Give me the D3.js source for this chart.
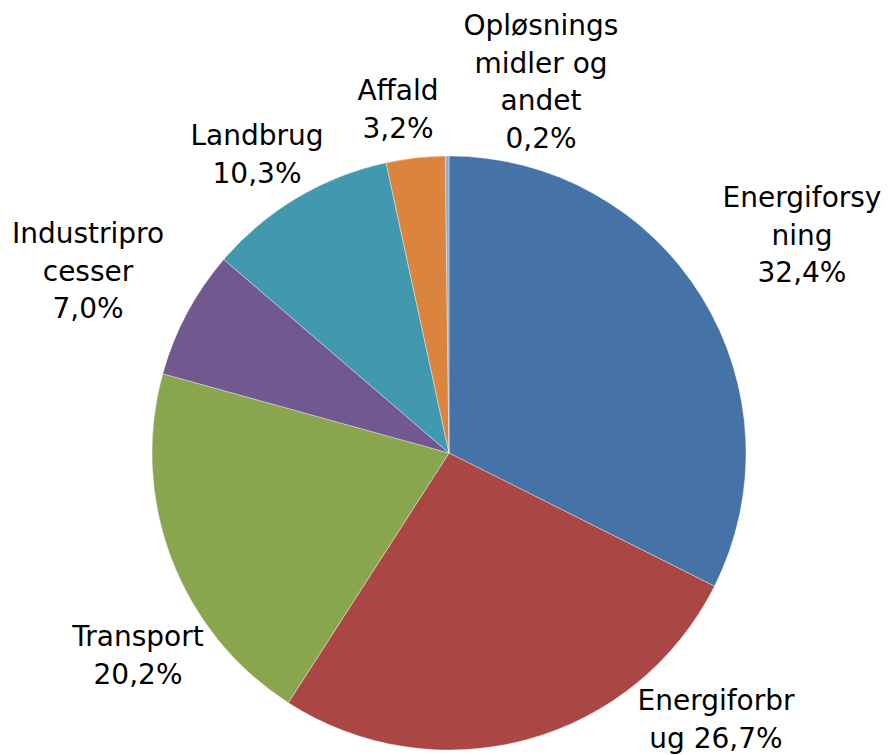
<!DOCTYPE html>
<html>
<head>
<meta charset="utf-8">
<script src="https://cdn.jsdelivr.net/npm/d3@7"></script>
<style>
  body { margin: 0; background: #fff; }
  text { font-family: "DejaVu Sans", Verdana, sans-serif; fill: #000; }
</style>
</head>
<body>
<div id="chart"></div>
<script>
// Data (clockwise from 12 o'clock)
const categories = ["Energiforsyning", "Energiforbrug", "Transport", "Industriprocesser", "Landbrug", "Affald", "Opløsningsmidler og andet"];
const values = [32.4, 26.7, 20.2, 7.0, 10.3, 3.2, 0.2];
// Label lines as wrapped in the picture
const labelLines = [
    ["Energiforsy", "ning", "32,4%"],
    ["Energiforbr", "ug 26,7%"],
    ["Transport", "20,2%"],
    ["Industripro", "cesser", "7,0%"],
    ["Landbrug", "10,3%"],
    ["Affald", "3,2%"],
    ["Opløsnings", "midler og", "andet", "0,2%"]
];
const colors = ["#4572A7", "#AA4643", "#89A54E", "#71588F", "#4198AF", "#DB843D", "#93A9CF"];

// Layout
const width = 888, height = 755;
const cx = 449, cy = 453, radius = 297;
const fontSize = 28, lineHeight = 37.5;
// label anchor: centre x and baseline of first line, relative to pie centre
const labelPos = [
    [353, -246], [267, 257], [-311, 193], [-361, -210],
    [-192, -308], [-51, -353], [92, -418]
];

const svg = d3.select("#chart")
    .append("svg")
    .attr("width", width)
    .attr("height", height);

const g = svg.append("g")
    .attr("transform", `translate(${cx},${cy})`);

const pie = d3.pie()
    .sort(null)
    .value(d => d);

const arc = d3.arc()
    .innerRadius(0)
    .outerRadius(radius);

const arcs = pie(values);

g.selectAll("path")
    .data(arcs)
    .enter()
    .append("path")
    .attr("d", arc)
    .attr("fill", (d, i) => colors[i])
    .attr("stroke", "#ffffff")
    .attr("stroke-opacity", 0.6)
    .attr("stroke-width", 0.6);

// Labels
const labels = g.selectAll(".label")
    .data(arcs)
    .enter()
    .append("text")
    .attr("class", "label")
    .attr("text-anchor", "middle")
    .style("font-size", fontSize + "px")
    .attr("x", (d, i) => labelPos[i][0])
    .attr("y", (d, i) => labelPos[i][1]);

labels.each(function(d, i) {
    const t = d3.select(this);
    labelLines[i].forEach((line, j) => {
        t.append("tspan")
            .attr("x", labelPos[i][0])
            .attr("y", labelPos[i][1] + j * lineHeight)
            .text(line);
    });
});
</script>
</body>
</html>
